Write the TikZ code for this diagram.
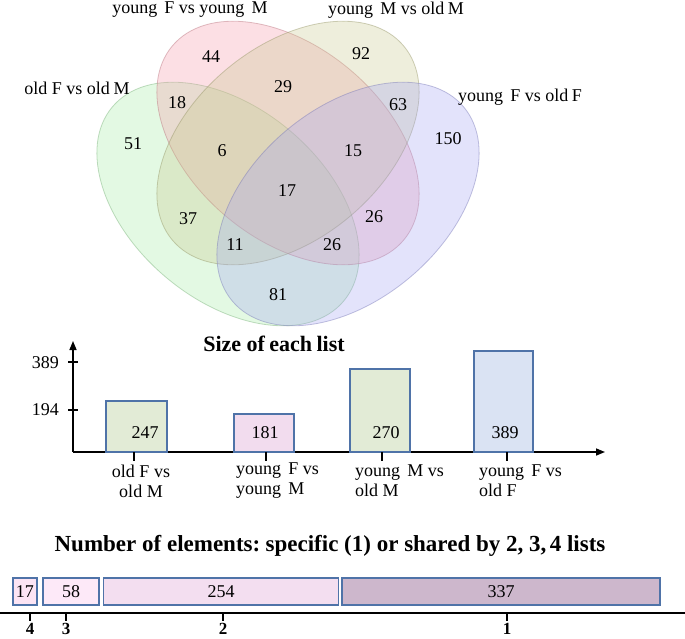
\documentclass[tikz,border=0pt]{standalone}
\usepackage{fontspec}
\setmainfont{Liberation Serif}
\usetikzlibrary{arrows.meta}
\definecolor{vgreen}{rgb}{0.63,0.92,0.63}
\definecolor{vpink}{rgb}{0.96,0.59,0.65}
\definecolor{volive}{rgb}{0.78,0.78,0.54}
\definecolor{vblue}{rgb}{0.63,0.63,0.95}
\definecolor{barblue}{RGB}{79,115,168}
\definecolor{bgreen}{RGB}{226,235,214}
\definecolor{bpink}{RGB}{242,220,238}
\definecolor{bblue}{RGB}{218,227,243}
\definecolor{cpinka}{RGB}{252,228,244}
\definecolor{cpinkb}{RGB}{253,233,248}
\definecolor{cpinkc}{RGB}{243,222,240}
\definecolor{cmauve}{RGB}{205,183,204}
\begin{document}
\begin{tikzpicture}[x=1pt,y=1pt,
  vset/.style={fill=#1, fill opacity=0.3, draw=#1!75!black, draw opacity=0.45, line width=0.8pt},
  txt/.style={font=\fontsize{18}{20}\selectfont, inner sep=0pt},
  ttl/.style={font=\fontsize{22}{24}\selectfont\bfseries, inner sep=0pt},
  axisline/.style={line width=1.5pt, -{Triangle[length=9pt,width=7pt]}},
  tickline/.style={line width=2pt},
  barbox/.style={draw=barblue, line width=1.3pt, anchor=south west, outer sep=0pt, inner sep=0pt},
  cbox/.style={draw=barblue, line width=1.2pt, minimum height=27pt, inner sep=0pt, outer sep=0pt, font=\fontsize{18}{20}\selectfont},
  blab/.style={font=\fontsize{17}{20}\selectfont\bfseries, inner sep=0pt}
]
\useasboundingbox (0,0) rectangle (685,-638);

% ---------- Venn diagram ----------
\path[vset=vgreen, rotate around={-40:(228,-204)}] (228,-204) ellipse [x radius=151, y radius=96];
\path[vset=vpink,  rotate around={-40:(288,-143)}] (288,-143) ellipse [x radius=151, y radius=96];
\path[vset=volive, rotate around={40:(288,-143)}]  (288,-143) ellipse [x radius=151, y radius=96];
\path[vset=vblue,  rotate around={40:(348,-204)}]  (348,-204) ellipse [x radius=151, y radius=96];

\node[txt] (lyFyM) at (190,-10) {young\hspace{0.4em}F vs young\hspace{0.4em}M};
\node[txt] (lyMoM) at (396,-10) {young\hspace{0.4em}M vs old\hspace{0.2em}M};
\node[txt] (loFoM) at (77,-88)  {old F vs old\hspace{0.2em}M};
\node[txt] (lyFoF) at (520,-97) {young\hspace{0.4em}F vs old\hspace{0.2em}F};

\node[txt] (n44)  at (211,-57)  {44};
\node[txt] (n92)  at (361,-54)  {92};
\node[txt] (n29)  at (283,-87)  {29};
\node[txt] (n18)  at (177,-103) {18};
\node[txt] (n63)  at (398,-105) {63};
\node[txt] (n51)  at (133,-144) {51};
\node[txt] (n150) at (448,-139) {150};
\node[txt] (n6)   at (222,-151) {6};
\node[txt] (n15)  at (353,-151) {15};
\node[txt] (n17)  at (287,-191) {17};
\node[txt] (n37)  at (188,-219) {37};
\node[txt] (n26a) at (374,-217) {26};
\node[txt] (n11)  at (235,-245) {11};
\node[txt] (n26b) at (332,-245) {26};
\node[txt] (n81)  at (278,-295) {81};

% ---------- Size of each list ----------
\node[ttl] (t1) at (274,-344) {Size of\hspace{-0.05em} each\hspace{-0.05em} list};
\coordinate (O) at (73,-452);
\coordinate (ytop) at (73,-341);
\coordinate (xend) at (605,-452);
\draw[axisline] (O) -- (ytop);
\draw[axisline] (O) -- (xend);
\coordinate (ty1a) at (68,-362); \coordinate (ty1b) at (78,-362);
\coordinate (ty2a) at (68,-410); \coordinate (ty2b) at (78,-410);
\draw[tickline] (ty1a) -- (ty1b);
\draw[tickline] (ty2a) -- (ty2b);
\node[txt, anchor=east] (y389) at (59,-363) {389};
\node[txt, anchor=east] (y194) at (59,-410) {194};

\node[barbox, fill=bgreen, minimum width=61pt, minimum height=51pt]  (b1) at (106,-452) {};
\node[barbox, fill=bpink,  minimum width=60pt, minimum height=38pt]  (b2) at (234,-452) {};
\node[barbox, fill=bgreen, minimum width=60pt, minimum height=83pt]  (b3) at (350,-452) {};
\node[barbox, fill=bblue,  minimum width=59pt, minimum height=101pt] (b4) at (474,-452) {};
\node[txt] (v1) at (145,-433) {247};
\node[txt] (v2) at (265,-433) {181};
\node[txt] (v3) at (386,-433) {270};
\node[txt] (v4) at (505,-433) {389};

\foreach \x/\n in {134/a,266/b,382/c,507/d}{
  \coordinate (tx\n1) at (\x,-452); \coordinate (tx\n2) at (\x,-461);
  \draw[tickline] (tx\n1) -- (tx\n2);
}
\node[txt, align=center] (c1) at (141,-481) {old F vs\\old M};
\node[txt, align=left, anchor=west] (c2) at (236,-481) {young\hspace{0.4em}F vs\\young\hspace{0.4em}M};
\node[txt, align=left, anchor=west] (c3) at (355,-481) {young\hspace{0.4em}M vs\\old M};
\node[txt, align=left, anchor=west] (c4) at (479,-481) {young\hspace{0.4em}F vs\\old F};

% ---------- Number of elements ----------
\node[ttl, font=\fontsize{23}{26}\selectfont\bfseries] (t2) at (330,-546) {Number of elements:\hspace{-0.1em} specific (1) or shared by 2, 3,\hspace{-0.1em} 4 lists};
\node[cbox, fill=cpinka, minimum width=24pt]  (k4) at (25,-591.5)  {17};
\node[cbox, fill=cpinkb, minimum width=56pt]  (k3) at (71,-591.5)  {58};
\node[cbox, fill=cpinkc, minimum width=235pt] (k2) at (221,-591.5) {254};
\node[cbox, fill=cmauve, minimum width=318pt] (k1) at (501,-591.5) {337};

\coordinate (ax1) at (0,-613);
\coordinate (ax2) at (685,-613);
\draw[line width=2.5pt] (ax1) -- (ax2);
\foreach \x/\n in {30/4,66/3,223/2,507/1}{
  \coordinate (bt\n1) at (\x,-613); \coordinate (bt\n2) at (\x,-621);
  \draw[tickline] (bt\n1) -- (bt\n2);
  \node[blab] (bl\n) at (\x,-629) {\n};
}
\end{tikzpicture}
\end{document}
